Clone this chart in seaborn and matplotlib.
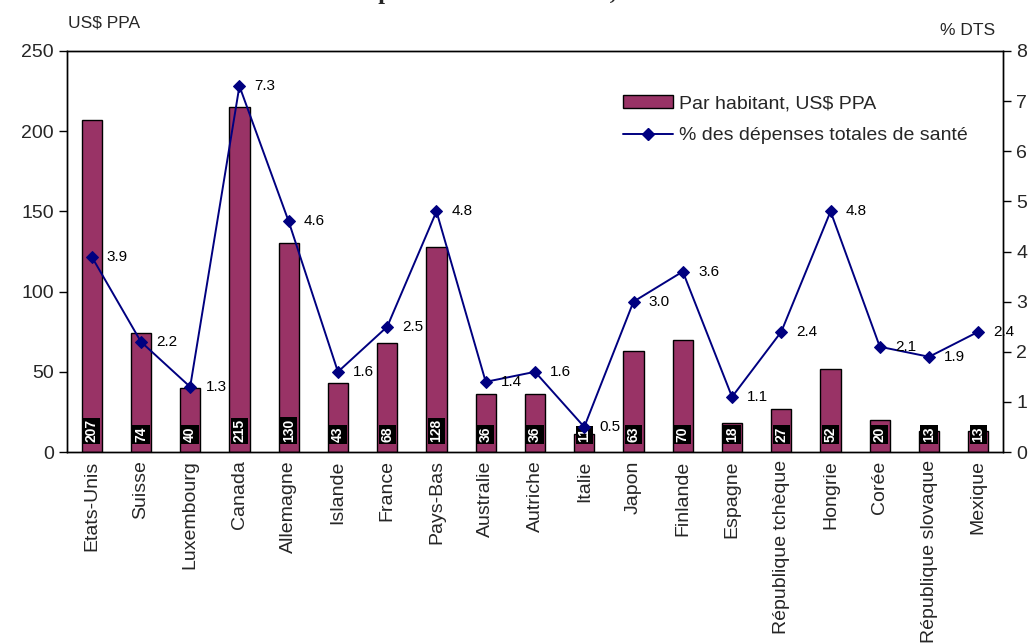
import numpy as np
import pandas as pd
import matplotlib
matplotlib.use("Agg")
import matplotlib.pyplot as plt
import seaborn as sns
from matplotlib.lines import Line2D
from matplotlib.patches import Patch

countries = ["Etats-Unis", "Suisse", "Luxembourg", "Canada", "Allemagne", "Islande",
             "France", "Pays-Bas", "Australie", "Autriche", "Italie", "Japon",
             "Finlande", "Espagne", "République tchèque", "Hongrie", "Corée",
             "République slovaque", "Mexique"]
per_capita = [207, 74, 40, 215, 130, 43, 68, 128, 36, 36, 11, 63, 70, 18, 27, 52, 20, 13, 13]
pct_total = [3.9, 2.2, 1.3, 7.3, 4.6, 1.6, 2.5, 4.8, 1.4, 1.6, 0.5, 3.0, 3.6, 1.1, 2.4, 4.8, 2.1, 1.9, 2.4]

bar_label = "Par habitant, US$ PPA"
line_label = "% des dépenses totales de santé"

sns.set_theme(style="white")
plt.rcParams["font.family"] = ["Liberation Sans", "DejaVu Sans"]

df = pd.DataFrame({"pays": countries, "par_hab": per_capita, "pct": pct_total,
                   "pos": np.arange(len(countries))})

fig = plt.figure(figsize=(10.34, 6.43), dpi=100)
ax = fig.add_axes([0.0648, 0.297, 0.9052, 0.6237])

bar_color = "#993366"
line_color = "#000080"

sns.barplot(data=df, x="pays", y="par_hab", color=bar_color, width=0.41,
            edgecolor="black", linewidth=1.0, saturation=1, ax=ax)
ax.set_xlim(-0.5, len(countries) - 0.5)
ax.set_ylim(0, 250)
ax.set_yticks(np.arange(0, 251, 50))
ax.set_xlabel("")
ax.set_ylabel("")

# value boxes near the foot of each bar
for i, v in enumerate(per_capita):
    ax.annotate(str(v), xy=(i, 0), xytext=(0, 7), textcoords="offset points",
                ha="center", va="bottom", rotation=90, fontsize=10, color="white",
                fontweight="bold",
                bbox=dict(boxstyle="square,pad=0.12", fc="black", ec="none"))

ax2 = ax.twinx()
sns.lineplot(data=df, x="pos", y="pct", color=line_color, marker="D", markersize=6,
             markeredgecolor=line_color, linewidth=1.4, ax=ax2)
ax2.set_ylim(0, 8)
ax2.set_yticks(np.arange(0, 9, 1))
ax2.set_xlim(-0.5, len(countries) - 0.5)
ax2.set_ylabel("")
ax2.set_xlabel("")

for i, p in enumerate(pct_total):
    ax2.annotate(f"{p:.1f}", xy=(i, p), xytext=(11, 0), textcoords="offset points",
                 ha="left", va="center", fontsize=11, color="black")

# category ticks between bars
ax.set_xticks(np.arange(len(countries)))
ax.set_xticklabels(countries, rotation=90, fontsize=14)
ax.tick_params(axis="x", which="major", length=0, pad=6)
ax.set_xticks(np.arange(-0.5, len(countries), 1), minor=True)
ax.tick_params(axis="x", which="minor", length=6, width=1, direction="out", color="black")
ax.tick_params(axis="y", length=6, width=1, direction="out", labelsize=14, color="black")
ax2.tick_params(axis="y", length=6, width=1, direction="out", labelsize=14, color="black")

for a in (ax, ax2):
    for s in a.spines.values():
        s.set_color("black")
        s.set_linewidth(1.0)

handles = [Patch(facecolor=bar_color, edgecolor="black", label=bar_label),
           Line2D([0], [0], color=line_color, marker="D", markersize=6, lw=1.4,
                  label=line_label)]
ax2.legend(handles=handles, loc="upper left", bbox_to_anchor=(0.575, 0.935),
           frameon=False, fontsize=14, handlelength=2.6, handletextpad=0.3,
           labelspacing=0.75)

fig.text(0.066, 0.965, "US$ PPA", fontsize=12.5, ha="left", va="center")
fig.text(0.962, 0.953, "% DTS", fontsize=12.5, ha="right", va="center")
fig.text(0.495, 1 + 1 / 643, "dépenses totales de santé, 1998", ha="center",
         va="baseline", fontsize=17.5, fontweight="bold",
         family=["Liberation Serif", "DejaVu Serif"])

fig.savefig("out.png", dpi=100)
